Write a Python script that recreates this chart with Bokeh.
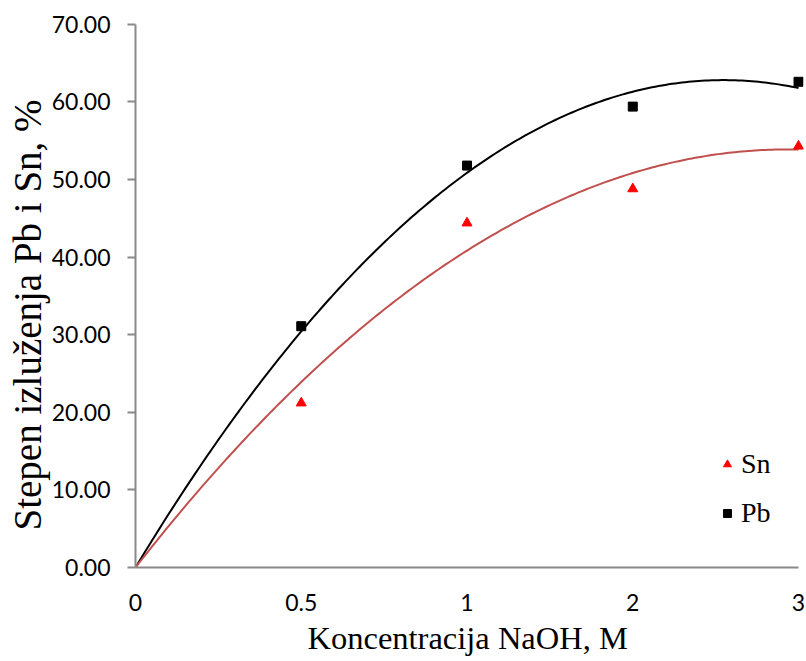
import numpy as np
from bokeh.plotting import figure
from bokeh.models import Range1d, FixedTicker, NumeralTickFormatter, Legend, LegendItem, Title
from bokeh.embed import file_html
from bokeh.resources import INLINE

# ---- data ----
x_labels = ["0", "0.5", "1", "2", "3"]
sn_values = [21.2, 44.4, 48.8, 54.3]   # at 0.5, 1, 2, 3 M
pb_values = [31.1, 51.8, 59.4, 62.6]
y_ticks = [0, 10, 20, 30, 40, 50, 60, 70]
x_title = "Koncentracija NaOH, M"
y_title = "Stepen izluženja Pb i Sn, %"

pos = np.arange(len(x_labels), dtype=float)   # category positions
pts_x = pos[1:]

def trend(vals):
    # 2nd order polynomial trendline with intercept set to 0 (through the origin)
    xx = np.concatenate([[0.0], pts_x])
    yy = np.concatenate([[0.0], vals])
    A = np.vstack([xx, xx ** 2]).T
    coef, *_ = np.linalg.lstsq(A, yy, rcond=None)
    gx = np.linspace(0, pos[-1], 200)
    return gx, coef[0] * gx + coef[1] * gx ** 2

p = figure(width=805, height=659, output_backend="svg", toolbar_location=None,
           x_range=Range1d(0, 4.03), y_range=Range1d(0, 70.5),
           min_border_left=135, min_border_right=2, min_border_top=20, min_border_bottom=92)
p.outline_line_color = None
p.grid.grid_line_color = None
p.background_fill_color = "white"
p.border_fill_color = "white"

gx, gy = trend(pb_values)
p.line(gx, gy, line_color="black", line_width=2)
gx2, gy2 = trend(sn_values)
p.line(gx2, gy2, line_color="#C0504D", line_width=2)

r_sn = p.scatter(pts_x, sn_values, marker="triangle", size=10, fill_color="#FF0000", line_color="#FF0000")
r_pb = p.scatter(pts_x, pb_values, marker="square", size=9, fill_color="black", line_color="black")

# axes
xa = p.xaxis[0]
xa.ticker = FixedTicker(ticks=list(pos))
xa.major_label_overrides = {float(i): lab for i, lab in enumerate(x_labels)}
xa.major_label_overrides.update({int(i): lab for i, lab in enumerate(x_labels)})
xa.bounds = (0, 4)
xa.axis_line_color = "#898989"
xa.axis_line_width = 2
xa.major_tick_line_color = None
xa.minor_tick_line_color = None
xa.major_tick_out = 0
xa.major_label_standoff = 26
xa.major_label_text_font = "Lato"
xa.major_label_text_font_size = "23px"
xa.major_label_text_color = "black"

ya = p.yaxis[0]
ya.ticker = FixedTicker(ticks=y_ticks)
ya.formatter = NumeralTickFormatter(format="0.00")
ya.bounds = (0, 70)
ya.axis_line_color = "#898989"
ya.axis_line_width = 2
ya.major_tick_line_color = "#898989"
ya.major_tick_line_width = 2
ya.major_tick_out = 8
ya.major_tick_in = 0
ya.minor_tick_line_color = None
ya.major_label_standoff = 17
ya.major_label_text_font = "Lato"
ya.major_label_text_font_size = "23px"
ya.major_label_text_color = "black"

# axis titles as side titles (aligned to the frame with an offset)
tx = Title(text=x_title, align="left", offset=172, standoff=8,
           text_font="Liberation Serif", text_font_size="32.5px",
           text_font_style="normal", text_color="black")
p.add_layout(tx, "below")
ty = Title(text=y_title, align="left", offset=37, standoff=0,
           text_font="Liberation Serif", text_font_size="39px",
           text_font_style="normal", text_color="black")
p.add_layout(ty, "left")

legend = Legend(items=[LegendItem(label="Sn", renderers=[r_sn]),
                       LegendItem(label="Pb", renderers=[r_pb])],
                location=(582, 38), orientation="vertical",
                border_line_color=None, background_fill_alpha=0,
                padding=0, margin=0, spacing=17,
                glyph_width=20, glyph_height=28, label_height=28,
                label_standoff=4,
                label_text_font="Liberation Serif", label_text_font_size="28px",
                label_text_color="black")
p.add_layout(legend)

open("out.html", "w").write(file_html(p, INLINE))
